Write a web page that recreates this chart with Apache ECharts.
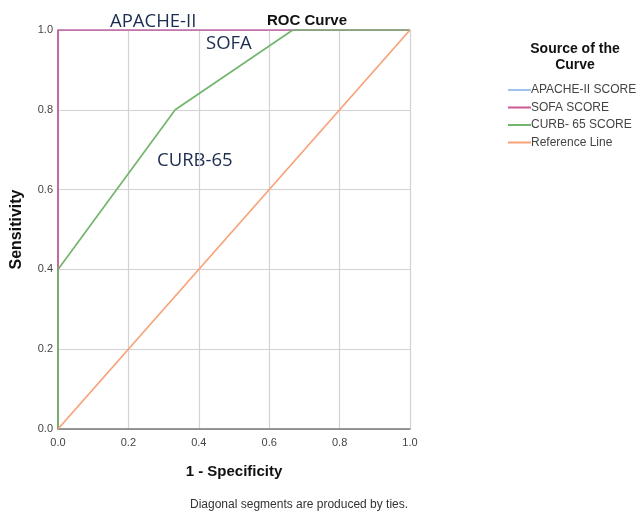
<!DOCTYPE html>
<html>
<head>
<meta charset="utf-8">
<script src="https://cdn.jsdelivr.net/npm/echarts@6/dist/echarts.min.js"></script>
<style>
  html, body { margin: 0; padding: 0; background: #fff; }
  #chart { width: 638px; height: 515px; }
</style>
</head>
<body>
<div id="chart"></div>
<script>
// axis ticks
const ticks = [0, 0.2, 0.4, 0.6, 0.8, 1.0];

// ROC points: 1 - specificity (x) and sensitivity (y)
const apacheX = [0, 0, 1];
const apacheY = [0, 1, 1];
const sofaX = [0, 0, 0, 1];
const sofaY = [0, 0.4, 1, 1];
const curbX = [0, 0, 0.333, 0.667, 1];
const curbY = [0, 0.4, 0.8, 1, 1];
const refX = [0, 1];
const refY = [0, 1];

const names = ['APACHE-II SCORE', 'SOFA SCORE', 'CURB- 65 SCORE', 'Reference Line'];
const colors = ['#9fc3ee', '#cc5a94', '#72b56c', '#f7a277'];

function zip(xs, ys) {
  return xs.map((x, i) => [x, ys[i]]);
}

const chart = echarts.init(document.getElementById('chart'));

const axisCommon = {
  type: 'value',
  min: ticks[0],
  max: ticks[ticks.length - 1],
  interval: 0.2,
  axisLine: { show: true, lineStyle: { color: '#7a7a7a', width: 1.5 } },
  axisTick: { show: false },
  splitLine: { show: true, lineStyle: { color: '#d2d2d2', width: 1.2 } },
  axisLabel: {
    color: '#444',
    fontSize: 11,
    fontFamily: 'Liberation Sans',
    formatter: v => v.toFixed(1)
  },
  nameTextStyle: {
    color: '#111',
    fontSize: 15,
    fontWeight: 'bold',
    fontFamily: 'Liberation Sans'
  }
};

const series = [
  { data: zip(apacheX, apacheY) },
  { data: zip(sofaX, sofaY) },
  { data: zip(curbX, curbY) },
  { data: zip(refX, refY) }
].map((s, i) => ({
  name: names[i],
  type: 'line',
  data: s.data,
  symbol: 'none',
  lineStyle: { color: colors[i], width: 1.7 },
  itemStyle: { color: colors[i] },
  z: 3 + i
}));

const annotFont = { fontSize: 18.5, fontFamily: 'Open Sans', fill: '#1c2d50' };

chart.setOption({
  animation: false,
  title: [
    {
      text: 'ROC Curve',
      left: 262,
      top: 8,
      textStyle: { fontSize: 15, fontWeight: 'bold', color: '#111', fontFamily: 'Liberation Sans' }
    },
    {
      text: 'Source of the\nCurve',
      left: 570,
      top: 36,
      textAlign: 'center',
      textStyle: { fontSize: 14, fontWeight: 'bold', color: '#111', lineHeight: 16, fontFamily: 'Liberation Sans' }
    }
  ],
  legend: {
    orient: 'vertical',
    left: 503,
    top: 79,
    itemWidth: 23,
    itemHeight: 2,
    itemGap: 5.5,
    icon: 'rect',
    data: names,
    textStyle: { fontSize: 12, color: '#444', fontFamily: 'Liberation Sans', padding: [0, 0, 0, -5] }
  },
  grid: { left: 58, right: 228, top: 30, bottom: 86 },
  xAxis: Object.assign({}, axisCommon, {
    name: '1 - Specificity',
    nameLocation: 'middle',
    nameGap: 35
  }),
  yAxis: Object.assign({}, axisCommon, {
    name: 'Sensitivity',
    nameLocation: 'middle',
    nameGap: 33,
    axisLabel: Object.assign({}, axisCommon.axisLabel, { margin: 5 }),
    nameTextStyle: Object.assign({}, axisCommon.nameTextStyle, { fontSize: 16 })
  }),
  series: series,
  graphic: [
    { type: 'text', left: 110, top: 12, style: Object.assign({ text: 'APACHE-II' }, annotFont) },
    { type: 'text', left: 206, top: 34, style: Object.assign({ text: 'SOFA' }, annotFont) },
    { type: 'text', left: 157, top: 151, style: Object.assign({ text: 'CURB-65' }, annotFont) },
    {
      type: 'text',
      left: 190,
      top: 499,
      style: { text: 'Diagonal segments are produced by ties.', fontSize: 12, fill: '#333', fontFamily: 'Liberation Sans' }
    }
  ]
});
</script>
</body>
</html>
